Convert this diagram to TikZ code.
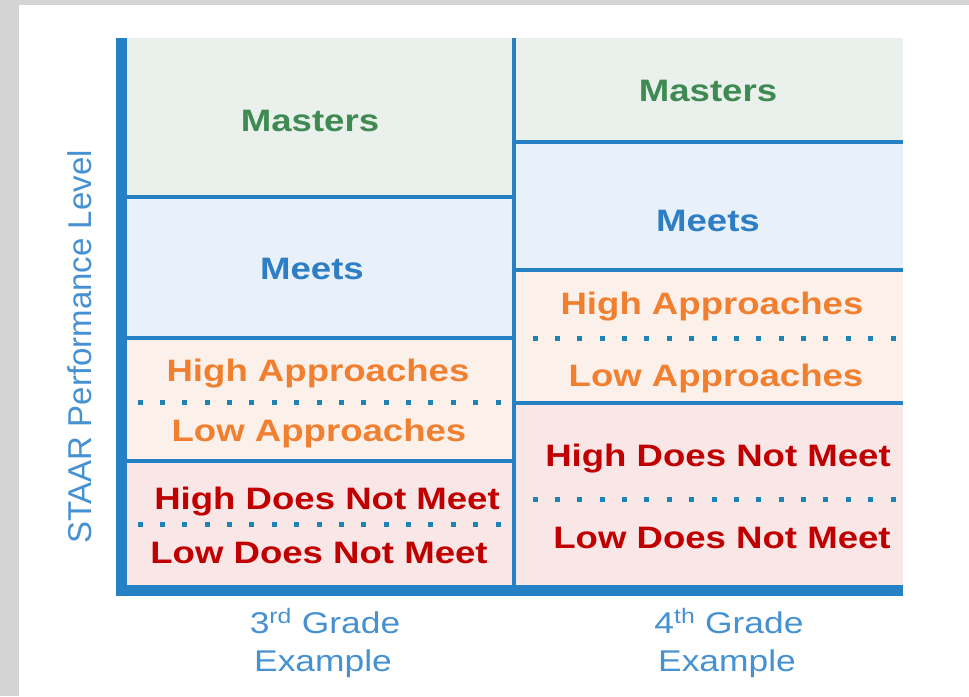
\documentclass[tikz,border=0pt]{standalone}
\usepackage{fontspec}
\setmainfont{Liberation Sans}
\newfontfamily\widefont{Liberation Sans}[FakeStretch=1.18]

\definecolor{bargray}{RGB}{212,212,212}
\definecolor{barblue}{RGB}{38,128,196}
\definecolor{dotblue}{RGB}{30,130,178}
\definecolor{textblue}{RGB}{70,145,210}
\definecolor{mastfill}{RGB}{234,240,236}
\definecolor{meetfill}{RGB}{232,241,249}
\definecolor{apprfill}{RGB}{252,240,234}
\definecolor{dnmfill}{RGB}{249,230,230}
\definecolor{masttext}{RGB}{62,138,82}
\definecolor{meettext}{RGB}{45,126,197}
\definecolor{apprtext}{RGB}{240,128,48}
\definecolor{dnmtext}{RGB}{192,0,0}

\tikzset{
	rule/.style={draw=barblue, line width=4.5pt},
	lvl/.style={font=\widefont\bfseries\fontsize{31}{36}\selectfont, anchor=base, inner sep=0pt},
	foot/.style={font=\widefont\fontsize{30}{36}\selectfont, text=textblue, anchor=base, inner sep=0pt}
}

\begin{document}
\begin{tikzpicture}[x=1pt,y=-1pt]
	% Define the variables
	\def\top{38}
	\def\bot{590.5}
	\def\lx{127}
	\def\mx{514}
	\def\rx{903}
	
	\useasboundingbox (0,0) rectangle (969,696);
	
	% Gray border
	\fill[bargray] (0,0) rectangle (19,696);
	\fill[bargray] (0,0) rectangle (969,5);
	
	% 3rd grade bands
	\fill[mastfill] (\lx,\top) rectangle (\mx,197);
	\fill[meetfill] (\lx,197) rectangle (\mx,338);
	\fill[apprfill] (\lx,338) rectangle (\mx,461);
	\fill[dnmfill] (\lx,461) rectangle (\mx,\bot);
	
	% 4th grade bands
	\fill[mastfill] (\mx,\top) rectangle (\rx,142);
	\fill[meetfill] (\mx,142) rectangle (\rx,270);
	\fill[apprfill] (\mx,270) rectangle (\rx,403);
	\fill[dnmfill] (\mx,403) rectangle (\rx,\bot);
	
	% Band borders
	\foreach \y in {197,338,461}
	\draw[rule] (\lx,\y) -- (\mx,\y);
	
	\foreach \y in {142,270,403}
	\draw[rule] (\mx,\y) -- (\rx,\y);
	
	\draw[draw=barblue, line width=4pt] (\mx,\top) -- (\mx,\bot);
	
	% Dotted splits
	\foreach \y in {402,524}
	\foreach \i in {0,...,16}
	\fill[dotblue] ({140+\i*22.375-2.5},{\y-2.5}) rectangle +(5,5);
	
	\foreach \y in {338,499}
	\foreach \i in {0,...,16}
	\fill[dotblue] ({535+\i*22.375-2.5},{\y-2.5}) rectangle +(5,5);
	
	% Axes
	\draw[draw=barblue, line width=11pt] (121.5,\top) -- (121.5,596);
	\draw[draw=barblue, line width=11pt] (116,\bot) -- (\rx,\bot);
	
	% Levels, 3rd grade
	\node[lvl, text=masttext] (mast3) at (310,131) {Masters};
	\node[lvl, text=meettext] (meet3) at (312,279) {Meets};
	\node[lvl, text=apprtext] (hiapp3) at (318,381) {High Approaches};
	\node[lvl, text=apprtext] (loapp3) at (319,441) {Low Approaches};
	\node[lvl, text=dnmtext] (hidnm3) at (327,509) {High Does Not Meet};
	\node[lvl, text=dnmtext] (lodnm3) at (319,563) {Low Does Not Meet};
	
	% Levels, 4th grade
	\node[lvl, text=masttext] (mast4) at (708,101) {Masters};
	\node[lvl, text=meettext] (meet4) at (708,231) {Meets};
	\node[lvl, text=apprtext] (hiapp4) at (712,314) {High Approaches};
	\node[lvl, text=apprtext] (loapp4) at (716,386) {Low Approaches};
	\node[lvl, text=dnmtext] (hidnm4) at (718,466) {High Does Not Meet};
	\node[lvl, text=dnmtext] (lodnm4) at (722,548) {Low Does Not Meet};
	
	% Axis labels
	\node[rotate=90, text=textblue, font=\fontsize{33}{36}\selectfont] (ylabel) at (80,347) {STAAR Performance Level};
	\node[foot] (grade3) at (325,633) {3\textsuperscript{rd} Grade};
	\node[foot] (ex3) at (323,671) {Example};
	\node[foot] (grade4) at (729,633) {4\textsuperscript{th} Grade};
	\node[foot] (ex4) at (727,671) {Example};
\end{tikzpicture}
\end{document}
